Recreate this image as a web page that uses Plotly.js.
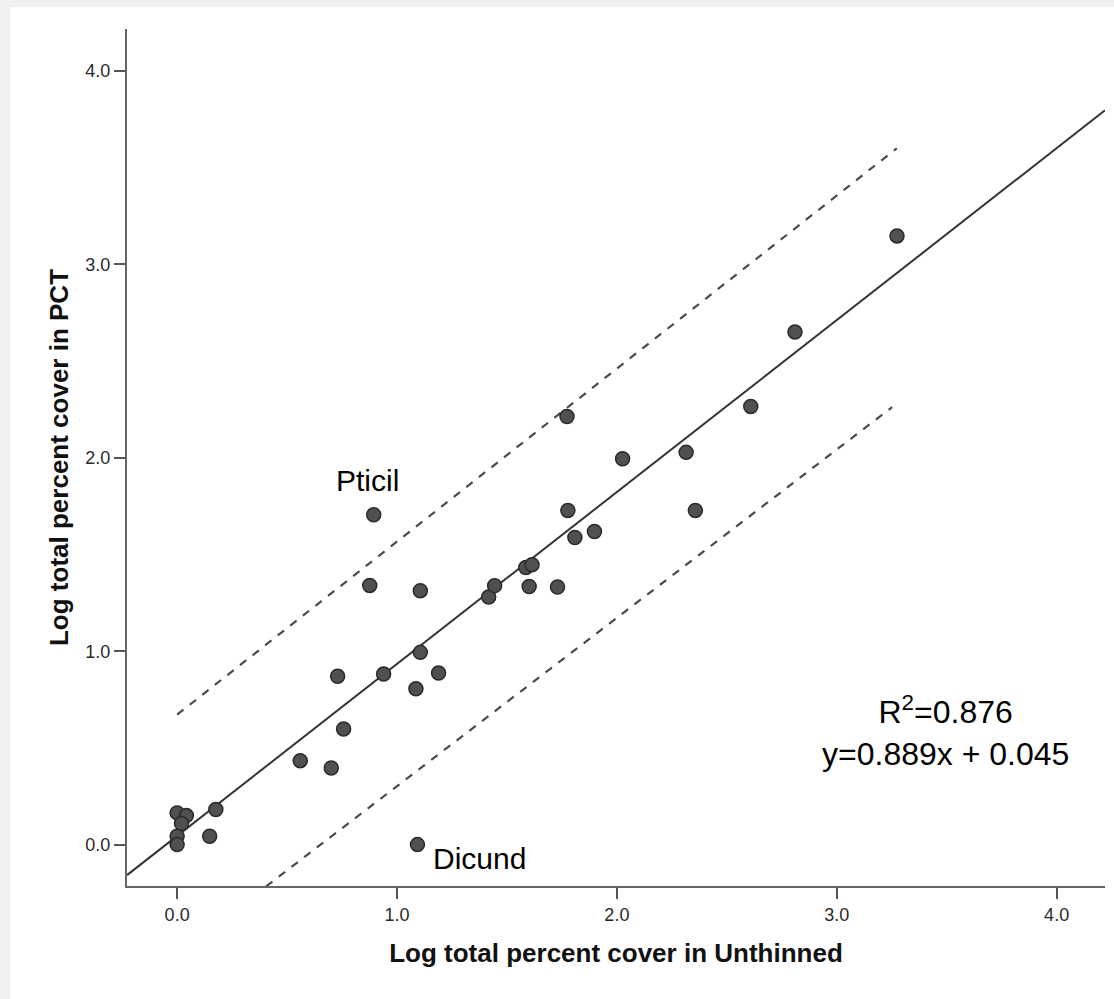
<!DOCTYPE html>
<html>
<head>
<meta charset="utf-8">
<script src="https://cdn.plot.ly/plotly-3.0.1.min.js"></script>
<style>
  html, body { margin: 0; padding: 0; background: #f0f0f0; width: 1114px; height: 999px; overflow: hidden; }
  #chart { position: absolute; left: 10px; top: 7px; width: 1104px; height: 992px; background: #ffffff; }
</style>
</head>
<body>
<div id="chart"></div>
<script>
// Observed points (log total percent cover)
const unthinned = [0, 0.042, 0.176, 0.020, 0, 0, 0.148, 1.093, 0.560, 0.701, 0.757, 0.730, 0.939, 1.086, 1.189, 1.106, 0.876, 1.106, 0.894, 1.417, 1.444, 1.586, 1.614, 1.601, 1.730, 1.773, 1.777, 1.809, 1.898, 2.026, 2.315, 2.357, 2.609, 2.810, 3.274];
const pct       = [0.164, 0.150, 0.181, 0.109, 0.043, 0, 0.043, 0, 0.434, 0.396, 0.598, 0.870, 0.882, 0.806, 0.887, 0.994, 1.340, 1.313, 1.705, 1.280, 1.339, 1.433, 1.447, 1.335, 1.332, 2.213, 1.728, 1.588, 1.619, 1.995, 2.028, 1.728, 2.265, 2.650, 3.147];

// Fit
const slope = 0.889;
const intercept = 0.045;
const r2 = 0.876;

// Prediction interval lines
const upperX = [0, 3.273];
const upperY = [0.672, 3.600];
const lowerX = [0, 3.252];
const lowerY = [-0.568, 2.262];

// Labels
const labelNames = ["Pticil", "Dicund"];
const labelX = [0.865, 1.156];
const labelY = [1.884, -0.07];

// Axes
const xRange = [-0.228, 4.22];
const yRange = [-0.214, 4.217];
const tickVals = [0, 1, 2, 3, 4];
const tickText = ["0.0", "1.0", "2.0", "3.0", "4.0"];

const fitX = [xRange[0], xRange[1]];
const fitY = fitX.map(v => slope * v + intercept);

const FONT = "Liberation Sans, Arial, sans-serif";

const traces = [
  { x: fitX, y: fitY, mode: "lines", line: { color: "#333333", width: 2 }, hoverinfo: "skip", showlegend: false },
  { x: upperX, y: upperY, mode: "lines", line: { color: "#4a4a4a", width: 2.2, dash: "8px,8px" }, hoverinfo: "skip", showlegend: false },
  { x: lowerX, y: lowerY, mode: "lines", line: { color: "#4a4a4a", width: 2.2, dash: "8px,8px" }, hoverinfo: "skip", showlegend: false },
  { x: unthinned, y: pct, mode: "markers", type: "scatter",
    marker: { size: 14, color: "#505050", line: { color: "#2a2a2a", width: 1.5 } }, showlegend: false }
];

const annotations = [
  { x: labelX[0], y: labelY[0], xref: "x", yref: "y", text: labelNames[0], showarrow: false,
    xanchor: "center", yanchor: "middle", font: { family: FONT, size: 30, color: "#000" } },
  { x: labelX[1], y: labelY[1], xref: "x", yref: "y", text: labelNames[1], showarrow: false,
    xanchor: "left", yanchor: "middle", font: { family: FONT, size: 30, color: "#000" } },
  { x: 3.494, y: 0.589, xref: "x", yref: "y",
    text: "R<sup>2</sup>=" + r2.toFixed(3) + "<br>y=" + slope.toFixed(3) + "x + " + intercept.toFixed(3),
    showarrow: false, xanchor: "center", yanchor: "middle", align: "center",
    font: { family: FONT, size: 32, color: "#000" } }
];

const axisCommon = {
  showgrid: false, zeroline: false, showline: true, linecolor: "#666666", linewidth: 2,
  ticks: "outside", ticklen: 11, tickwidth: 2, tickcolor: "#555555",
  tickvals: tickVals, ticktext: tickText,
  tickfont: { family: FONT, size: 18, color: "#2a2a2a" },
  automargin: false, fixedrange: true
};

const layout = {
  width: 1104, height: 992,
  paper_bgcolor: "#ffffff", plot_bgcolor: "#ffffff",
  margin: { l: 116.5, r: 9, t: 22, b: 112.5 },
  xaxis: Object.assign({}, axisCommon, {
    range: xRange,
    title: { text: "Log total percent cover in Unthinned", standoff: 20,
      font: { family: FONT, size: 26, color: "#111111", weight: "bold" } }
  }),
  yaxis: Object.assign({}, axisCommon, {
    range: yRange,
    title: { text: "Log total percent cover in PCT", standoff: 9,
      font: { family: FONT, size: 26, color: "#111111", weight: "bold" } }
  }),
  annotations: annotations,
  showlegend: false
};

Plotly.newPlot("chart", traces, layout, { displayModeBar: false, staticPlot: true });
</script>
</body>
</html>
